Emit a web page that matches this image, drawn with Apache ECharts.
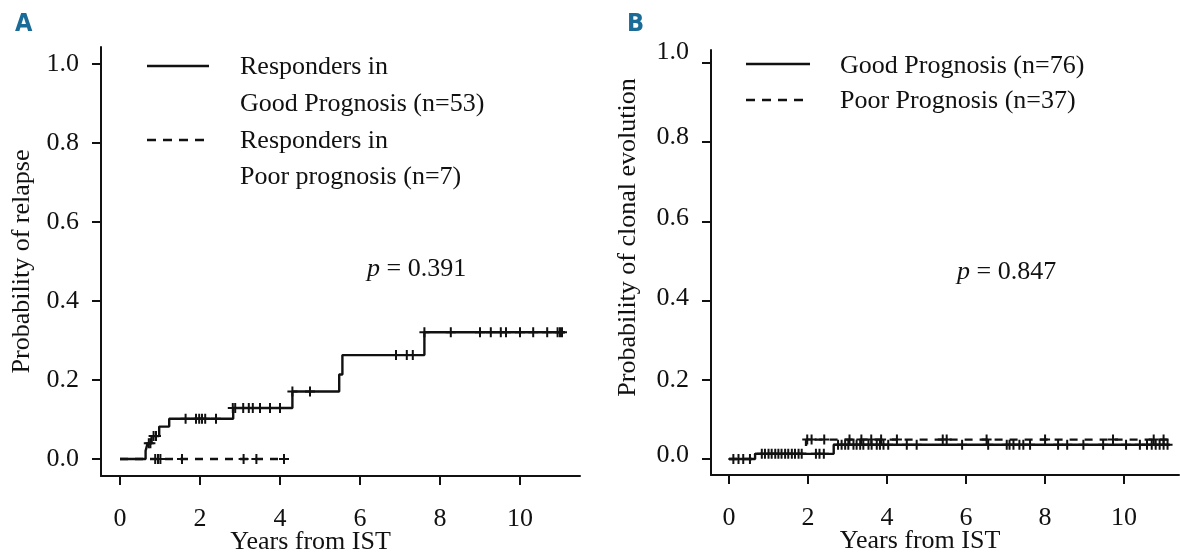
<!DOCTYPE html>
<html>
<head>
<meta charset="utf-8">
<script src="https://cdn.jsdelivr.net/npm/echarts@6/dist/echarts.min.js"></script>
<style>
html,body{margin:0;padding:0;background:#fff;}
#c{width:1180px;height:556px;}
</style>
</head>
<body>
<div id="c"></div>
<script>
// ---------- Tick labels ----------
const xTicks = [0, 2, 4, 6, 8, 10];
const yTicks = [0, 0.2, 0.4, 0.6, 0.8, 1.0];

// ---------- Panel A: probability of relapse ----------
const aGoodT = [0, 0.64, 0.69, 0.79, 0.98, 1.23, 2.83, 4.31, 5.48, 5.56, 7.61, 11.12];
const aGoodY = [0, 0.021, 0.04, 0.058, 0.082, 0.102, 0.129, 0.171, 0.214, 0.263, 0.321, 0.321];
const aPoorT = [0, 4.1];
const aPoorY = [0, 0];
const aGoodCensT = [0.72, 0.76, 0.84, 0.9, 1.64, 1.9, 1.98, 2.05, 2.13, 2.4,
  2.82, 2.88, 3.08, 3.22, 3.32, 3.5, 3.75, 4.0, 4.31, 4.75, 6.9, 7.17, 7.32,
  7.61, 8.27, 9.0, 9.27, 9.52, 9.65, 10.0, 10.33, 10.68, 10.94, 11.0, 11.05];
const aGoodCensY = [0.04, 0.04, 0.058, 0.058, 0.102, 0.102, 0.102, 0.102, 0.102, 0.102,
  0.129, 0.129, 0.129, 0.129, 0.129, 0.129, 0.129, 0.129, 0.171, 0.171, 0.263, 0.263, 0.263,
  0.321, 0.321, 0.321, 0.321, 0.321, 0.321, 0.321, 0.321, 0.321, 0.321, 0.321, 0.321];
const aPoorCensT = [0.88, 0.95, 1.01, 1.55, 3.09, 3.41, 4.1];
const aPoorCensY = [0, 0, 0, 0, 0, 0, 0];

// ---------- Panel B: probability of clonal evolution ----------
const bGoodT = [0, 0.66, 2.65, 11.16];
const bGoodY = [0, 0.013, 0.036, 0.036];
const bPoorT = [0, 0.66, 1.95, 11.2];
const bPoorY = [0, 0.013, 0.049, 0.049];
const bGoodCensT = [0.11, 0.24, 0.36, 0.53,
  0.83, 0.91, 1.0, 1.08, 1.17, 1.25, 1.33, 1.42, 1.5, 1.59, 1.67, 1.76, 1.84, 2.2, 2.29, 2.4,
  2.76, 2.85, 2.94, 3.02, 3.15, 3.23, 3.32, 3.4, 3.53, 3.61, 3.74, 3.82, 3.91, 4.03, 4.5, 4.75,
  5.9, 6.56, 7.03, 7.1, 7.2, 7.35, 7.45, 7.62, 8.33, 8.56, 8.97, 9.47, 10.05, 10.4,
  10.58, 10.7, 10.8, 10.9, 11.0, 11.1];
const bGoodCensY = [0, 0, 0, 0,
  0.013, 0.013, 0.013, 0.013, 0.013, 0.013, 0.013, 0.013, 0.013, 0.013, 0.013, 0.013, 0.013, 0.013, 0.013, 0.013,
  0.036, 0.036, 0.036, 0.036, 0.036, 0.036, 0.036, 0.036, 0.036, 0.036, 0.036, 0.036, 0.036, 0.036, 0.036, 0.036,
  0.036, 0.036, 0.036, 0.036, 0.036, 0.036, 0.036, 0.036, 0.036, 0.036, 0.036, 0.036, 0.036, 0.036,
  0.036, 0.036, 0.036, 0.036, 0.036, 0.036];
const bPoorCensT = [1.98, 2.09, 2.41, 3.05, 3.35, 3.6, 3.85, 4.25, 5.41, 5.51, 6.52, 8.0, 9.72, 10.75, 11.0];
const bPoorCensY = [0.049, 0.049, 0.049, 0.049, 0.049, 0.049, 0.049, 0.049, 0.049, 0.049, 0.049, 0.049, 0.049, 0.049, 0.049];

// ---------- Texts ----------
const panelLabels = ['A', 'B'];
const yTitles = ['Probability of relapse', 'Probability of clonal evolution'];
const xTitle = 'Years from IST';
const legendA = [['Responders in', 'Good Prognosis (n=53)'], ['Responders in', 'Poor prognosis (n=7)']];
const legendB = ['Good Prognosis (n=76)', 'Poor Prognosis (n=37)'];
const pValues = ['0.391', '0.847'];

const SERIF = '"Liberation Serif", "DejaVu Serif", serif';
const INK = '#111';
const FS = 26;
const CROSS = 'path://M4,0h2v10h-2zM0,4h10v2h-10z';

function pairs(t, y) { return t.map((v, i) => [v, y[i]]); }

function axisX(gi, min, max, padRight) {
  return {
    type: 'value', gridIndex: gi, min: min, max: max,
    name: xTitle, nameLocation: 'middle', nameGap: 53, nameMoveOverlap: false,
    nameTextStyle: { fontFamily: SERIF, fontSize: FS, color: INK, padding: [0, padRight, 0, 0] },
    axisLine: { show: true, onZero: false, lineStyle: { color: INK, width: 2 } },
    axisTick: { show: true, customValues: xTicks, length: 9, lineStyle: { color: INK, width: 2 } },
    axisLabel: { customValues: xTicks, margin: 30, fontFamily: SERIF, fontSize: FS, color: INK },
    splitLine: { show: false }
  };
}
// label lift (px) per tick for panel B, where labels sit slightly above their ticks
const bLift = { '0.0': 4, '0.2': 0, '0.4': 2, '0.6': 3, '0.8': 5, '1.0': 11 };
function axisY(gi, min, max, title, gap, padLeft, lift) {
  const rich = {};
  Object.keys(lift || {}).forEach((k, i) => {
    rich['l' + i] = { fontFamily: SERIF, fontSize: FS, color: INK, padding: [0, 0, 2 * lift[k], 0] };
  });
  return {
    type: 'value', gridIndex: gi, min: min, max: max,
    name: title, nameLocation: 'middle', nameGap: gap, nameRotate: 90, nameMoveOverlap: false,
    nameTextStyle: { fontFamily: SERIF, fontSize: FS, color: INK, padding: [0, 0, 0, padLeft] },
    axisLine: { show: true, onZero: false, lineStyle: { color: INK, width: 2 } },
    axisTick: { show: true, customValues: yTicks, length: 9, lineStyle: { color: INK, width: 2 } },
    axisLabel: { customValues: yTicks, margin: 22, fontFamily: SERIF, fontSize: FS, color: INK,
      rich: rich,
      formatter: v => {
        const s = v.toFixed(1);
        if (!lift) return s;
        const i = Object.keys(lift).indexOf(s);
        return i >= 0 ? '{l' + i + '|' + s + '}' : s;
      } },
    splitLine: { show: false }
  };
}
function stepLine(name, xi, yi, t, y, dashed) {
  return {
    name: name, type: 'line', xAxisIndex: xi, yAxisIndex: yi, step: 'end',
    data: pairs(t, y), symbol: 'none', silent: true,
    lineStyle: { color: INK, width: 2.4, type: dashed ? [8, 7] : 'solid' }
  };
}
function cens(xi, yi, t, y) {
  return {
    type: 'scatter', xAxisIndex: xi, yAxisIndex: yi, data: pairs(t, y),
    symbol: CROSS, symbolSize: [10, 10], silent: true,
    itemStyle: { color: INK, opacity: 1 }
  };
}

const chart = echarts.init(document.getElementById('c'), null, { renderer: 'canvas' });
chart.setOption({
  animation: false,
  backgroundColor: '#fff',
  grid: [
    { left: 101, top: 47, width: 479, height: 429, outerBoundsMode: 'none', containLabel: false },
    { left: 711, top: 50, width: 468, height: 425, outerBoundsMode: 'none', containLabel: false }
  ],
  xAxis: [axisX(0, -0.475, 11.5, 60), axisX(1, -0.456, 11.39, 50)],
  yAxis: [axisY(0, -0.043, 1.043, yTitles[0], 66, 0, null), axisY(1, -0.0404, 1.0328, yTitles[1], 70, 50, bLift)],
  series: [
    stepLine('A good', 0, 0, aGoodT, aGoodY, false),
    stepLine('A poor', 0, 0, aPoorT, aPoorY, true),
    cens(0, 0, aGoodCensT, aGoodCensY),
    cens(0, 0, aPoorCensT, aPoorCensY),
    stepLine('B good', 1, 1, bGoodT, bGoodY, false),
    stepLine('B poor', 1, 1, bPoorT, bPoorY, true),
    cens(1, 1, bGoodCensT, bGoodCensY),
    cens(1, 1, bPoorCensT, bPoorCensY)
  ],
  graphic: [
    { type: 'text', left: 15, top: 12, style: { text: panelLabels[0], font: 'bold 25px "Liberation Sans Narrow", "DejaVu Sans Condensed", sans-serif', fill: '#1a6b97' } },
    { type: 'text', left: 627, top: 12, style: { text: panelLabels[1], font: 'bold 25px "Liberation Sans Narrow", "DejaVu Sans Condensed", sans-serif', fill: '#1a6b97' } },
    // legend A
    { type: 'line', shape: { x1: 147, y1: 66, x2: 209, y2: 66 }, style: { stroke: INK, lineWidth: 2.4 } },
    { type: 'line', shape: { x1: 147, y1: 140, x2: 207, y2: 140 }, style: { stroke: INK, lineWidth: 2.4, lineDash: [9, 7] } },
    { type: 'text', x: 240, y: 67, style: { text: legendA[0][0], font: FS + 'px ' + SERIF, fill: INK, verticalAlign: 'middle' } },
    { type: 'text', x: 240, y: 104, style: { text: legendA[0][1], font: FS + 'px ' + SERIF, fill: INK, verticalAlign: 'middle' } },
    { type: 'text', x: 240, y: 141, style: { text: legendA[1][0], font: FS + 'px ' + SERIF, fill: INK, verticalAlign: 'middle' } },
    { type: 'text', x: 240, y: 177, style: { text: legendA[1][1], font: FS + 'px ' + SERIF, fill: INK, verticalAlign: 'middle' } },
    // legend B
    { type: 'line', shape: { x1: 746, y1: 64, x2: 810, y2: 64 }, style: { stroke: INK, lineWidth: 2.4 } },
    { type: 'line', shape: { x1: 746, y1: 100, x2: 806, y2: 100 }, style: { stroke: INK, lineWidth: 2.4, lineDash: [9, 7] } },
    { type: 'text', x: 840, y: 66, style: { text: legendB[0], font: FS + 'px ' + SERIF, fill: INK, verticalAlign: 'middle' } },
    { type: 'text', x: 840, y: 101, style: { text: legendB[1], font: FS + 'px ' + SERIF, fill: INK, verticalAlign: 'middle' } },
    // p-values
    { type: 'text', x: 367, y: 269, style: { rich: { i: { fontStyle: 'italic', fontFamily: SERIF, fontSize: FS, fill: INK }, n: { fontFamily: SERIF, fontSize: FS, fill: INK } }, text: '{i|p}{n| = ' + pValues[0] + '}', verticalAlign: 'middle' } },
    { type: 'text', x: 957, y: 272, style: { rich: { i: { fontStyle: 'italic', fontFamily: SERIF, fontSize: FS, fill: INK }, n: { fontFamily: SERIF, fontSize: FS, fill: INK } }, text: '{i|p}{n| = ' + pValues[1] + '}', verticalAlign: 'middle' } }
  ]
});
</script>
</body>
</html>
